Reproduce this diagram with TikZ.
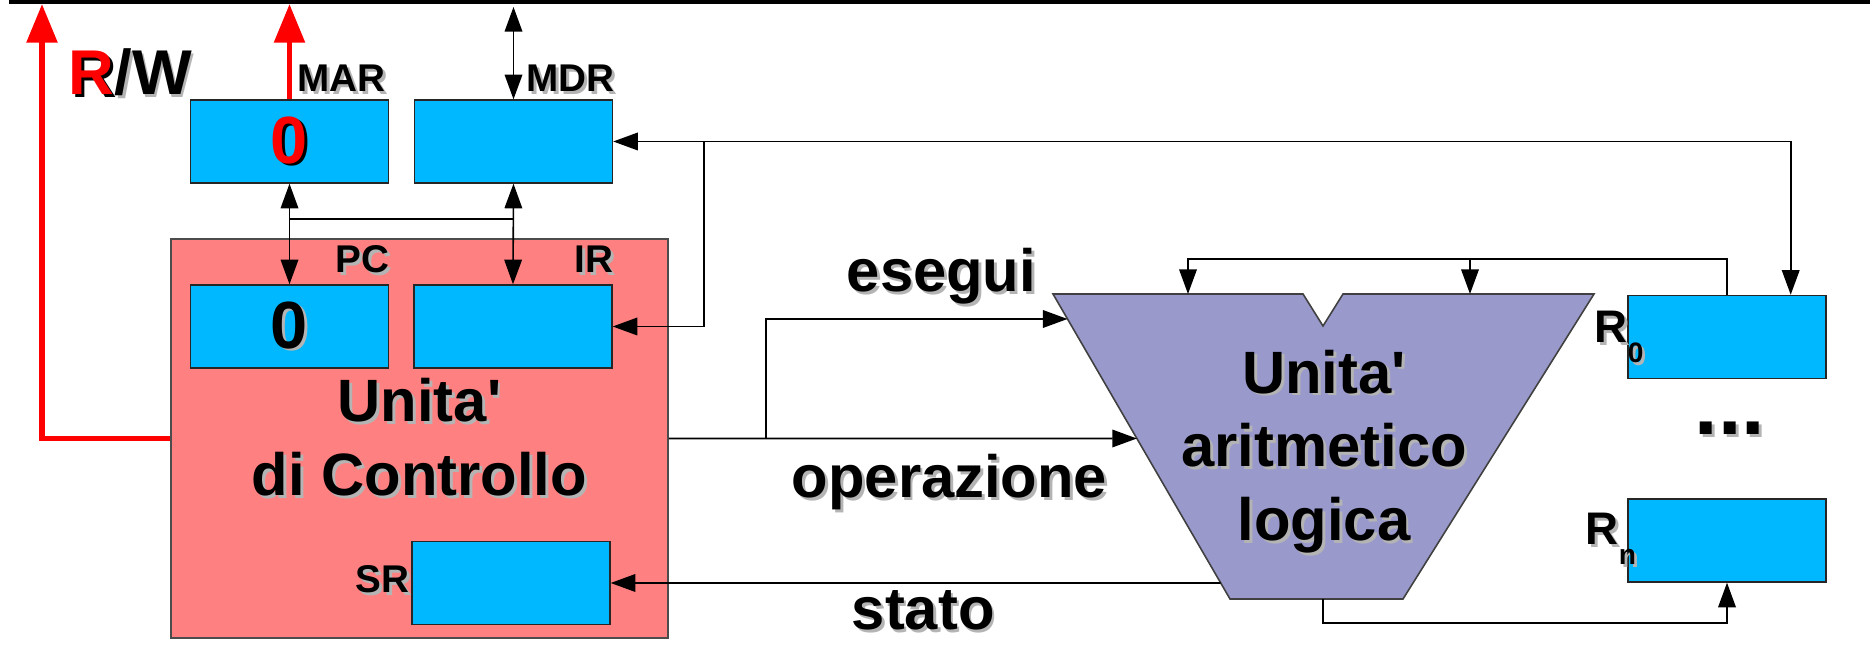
\documentclass[tikz,border=0pt]{standalone}
\usepackage{fontspec}
\setmainfont{Liberation Sans}
\usetikzlibrary{arrows.meta,calc}
\definecolor{regblue}{HTML}{00B8FF}
\definecolor{cupink}{HTML}{FF8080}
\definecolor{alublue}{HTML}{9999CC}
\definecolor{shade}{HTML}{B4B4B4}
\colorlet{hot}{red}
\newcommand\shtext[1]{\leavevmode\rlap{\kern0.8pt\raisebox{-0.8pt}{\colorlet{hot}{black}\color{shade}#1}}#1}
\newcommand\regsub[1]{R\raisebox{-5.5pt}{\fontsize{8}{8}\selectfont #1}}
\newcommand\unita{Unita\textquotesingle}
\tikzset{
  reg/.style={draw=black!85,line width=0.4pt,fill=regblue,minimum width=1.98cm,minimum height=0.83cm,inner sep=0pt},
  tag/.style={font=\fontsize{11}{11}\selectfont\bfseries,inner sep=0pt,anchor=base west},
  word/.style={font=\fontsize{17}{21}\selectfont\bfseries,inner sep=0pt,anchor=base west},
  big/.style={font=\fontsize{17}{21}\selectfont\bfseries,inner sep=0pt,align=center},
  digit/.style={font=\fontsize{19}{19}\selectfont\bfseries},
  redbus/.style={red,line width=1.7pt,>={Triangle[length=11pt,width=8.5pt]},->}
}
\begin{document}
\begin{tikzpicture}[>={Triangle[length=7pt,width=5pt]},line width=0.45pt]
\useasboundingbox (0,0) rectangle (18.70,-6.45);
\draw[line width=1.25pt] (0.09,-0.02) -- (18.70,-0.02);
\coordinate (bus) at (0,-0.07);
\coordinate (rwtop) at (0.42,-0.04);
\coordinate (link) at (0,-2.19);

\node[draw=black!70,fill=cupink,minimum width=4.97cm,minimum height=3.99cm,big] (cu) at (4.195,-4.385) {\shtext{\unita}\\\shtext{di Controllo}};
\node[reg,digit] (mar) at (2.895,-1.415) {\shtext{\textcolor{hot}{0}}};
\node[reg] (mdr) at (5.135,-1.415) {};
\node[reg,digit] (pc) at (2.895,-3.265) {\shtext{0}};
\node[reg] (ir) at (5.13,-3.265) {};
\node[reg] (sr) at (5.11,-5.83) {};
\node[reg] (r0) at (17.27,-3.37) {};
\node[reg] (rn) at (17.27,-5.405) {};

\node[tag,font=\fontsize{18}{18}\selectfont\bfseries] (rw) at (0.68,-0.95) {\shtext{\textcolor{hot}{R}/W}};
\node[tag] (marlbl) at (2.97,-0.92) {\shtext{MAR}};
\node[tag] (mdrlbl) at (5.26,-0.92) {\shtext{MDR}};
\node[tag] (pclbl) at (3.35,-2.73) {\shtext{PC}};
\node[tag] (irlbl) at (5.74,-2.73) {\shtext{IR}};
\node[tag] (srlbl) at (3.55,-5.93) {\shtext{SR}};
\node[tag,font=\fontsize{13}{13}\selectfont\bfseries] (r0lbl) at (15.94,-3.43) {\shtext{\regsub{0}}};
\node[tag,font=\fontsize{13}{13}\selectfont\bfseries] (rnlbl) at (15.85,-5.45) {\shtext{\regsub{n}}};
\node[font=\fontsize{24}{24}\selectfont\bfseries] (dots) at (17.30,-4.30) {\shtext{...}};
\node[word] (esegui) at (8.46,-2.92) {\shtext{esegui}};
\node[word] (operazione) at (7.91,-4.98) {\shtext{operazione}};
\node[word] (stato) at (8.51,-6.30) {\shtext{stato}};

\coordinate (alu-tl) at (10.53,-2.94);
\coordinate (alu-tr) at (15.94,-2.94);
\coordinate (alu-br) at (14.03,-5.99);
\coordinate (alu-bl) at (12.30,-5.99);
\draw[draw=black!75,fill=alublue] (alu-tl) -- (13.03,-2.94) -- (13.23,-3.26) -- (13.43,-2.94) -- (alu-tr) -- (alu-br) -- (alu-bl) -- cycle;
\node[big] (alu) at (13.24,-4.53) {\shtext{\unita}\\\shtext{aritmetico}\\\shtext{logica}};
\coordinate (exin) at ($(alu-tl)!0.082!(alu-bl)$);
\coordinate (opin) at ($(alu-tl)!0.4738!(alu-bl)$);
\coordinate (stout) at ($(alu-tl)!0.9475!(alu-bl)$);
\coordinate (aluout) at (13.23,-5.99);
\coordinate (fb1) at (11.88,-2.59);
\coordinate (fb2) at (14.70,-2.59);

\draw[redbus] (cu.west) -| (rwtop);
\draw[redbus] (mar.north) -- (mar.north |- rwtop);
\draw[<->] (mdr.north |- bus) -- (mdr.north);
\draw[<->] (mar.south) -- (pc.north);
\draw[<->] (mdr.south) -- (ir.north);
\draw (mar.south |- link) -- (mdr.south |- link);
\draw[<->] (mdr.east) -| ([xshift=-3.6mm]r0.north east);
\draw[->] ([xshift=9.1mm]mdr.east) |- (ir.east);
\draw[->] (r0.north) |- (fb1) -- (fb1 |- alu-tl);
\draw[->] (fb2) -- (fb2 |- alu-tl);
\draw[->] (cu.east) -- (opin);
\draw[->] ([xshift=9.7mm]cu.east) |- (exin);
\draw[->] (stout) -- (sr.east);
\draw[->] (aluout) -- ++(0,-0.24) -| (rn.south);
\end{tikzpicture}
\end{document}
